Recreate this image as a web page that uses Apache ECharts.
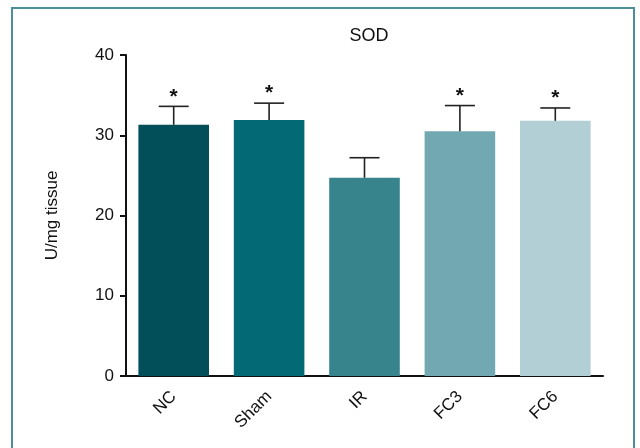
<!DOCTYPE html>
<html>
<head>
<meta charset="utf-8">
<script src="https://cdn.jsdelivr.net/npm/echarts@6/dist/echarts.min.js"></script>
<style>
  html, body { margin: 0; padding: 0; background: #fff; }
  #main { width: 640px; height: 448px; }
</style>
</head>
<body>
<div id="main"></div>
<script>
// 数据
var groups = ['NC', 'Sham', 'IR', 'FC3', 'FC6'];
var means = [31.3, 31.9, 24.7, 30.5, 31.8];
var errs = [2.3, 2.1, 2.5, 3.2, 1.6];
var stars = ['*', '*', '', '*', '*'];
var barColors = ['#034f59', '#036974', '#37848d', '#72a8b1', '#b2cfd5'];

var myChart = echarts.init(document.getElementById('main'));

var errData = groups.map(function (g, i) {
	return [i, means[i], means[i] + errs[i], stars[i]];
});

myChart.setOption({
	animation: false,
	textStyle: { fontFamily: 'Liberation Sans, Arial, sans-serif' },
	graphic: [{
		type: 'rect',
		shape: { x: 12, y: 8, width: 622, height: 460 },
		style: { fill: null, stroke: '#4d8e97', lineWidth: 2 },
		silent: true
	}],
	title: {
		text: 'SOD',
		left: 364,
		top: 22,
		textAlign: 'center',
		textStyle: { fontSize: 18, fontWeight: 'normal', color: '#111' }
	},
	grid: { left: 126, right: 37, top: 55, bottom: 72 },
	xAxis: {
		type: 'category',
		data: groups,
		axisLine: { lineStyle: { color: '#111', width: 2 } },
		axisTick: { alignWithLabel: true, length: 6, lineStyle: { color: '#111', width: 2 } },
		axisLabel: { rotate: 45, fontSize: 17, color: '#111', margin: 18 }
	},
	yAxis: {
		type: 'value',
		min: 0, max: 40, interval: 10,
		name: 'U/mg tissue',
		nameLocation: 'middle',
		nameGap: 65,
		nameTextStyle: { fontSize: 17, color: '#111' },
		axisLine: { show: true, lineStyle: { color: '#111', width: 2 } },
		axisTick: { show: true, length: 6, lineStyle: { color: '#111', width: 2 } },
		axisLabel: { fontSize: 17, color: '#111', margin: 12 },
		splitLine: { show: false }
	},
	series: [{
		type: 'bar',
		data: means.map(function (v, i) {
			return { value: v, itemStyle: { color: barColors[i] } };
		}),
		barCategoryGap: '26%',
		z: 2
	}, {
		type: 'custom',
		data: errData,
		z: 3,
		renderItem: function (params, api) {
			var base = api.coord([api.value(0), api.value(1)]);
			var top = api.coord([api.value(0), api.value(2)]);
			var half = 15;
			var children = [{
				type: 'line',
				shape: { x1: base[0], y1: base[1], x2: top[0], y2: top[1] },
				style: { stroke: '#222', lineWidth: 1.6 }
			}, {
				type: 'line',
				shape: { x1: top[0] - half, y1: top[1], x2: top[0] + half, y2: top[1] },
				style: { stroke: '#222', lineWidth: 1.6 }
			}];
			var s = stars[params.dataIndex];
			if (s) {
				children.push({
					type: 'text',
					style: {
						text: s, x: top[0], y: top[1] + 1,
						align: 'center', verticalAlign: 'bottom',
						fontSize: 21, fontWeight: 'bold', fill: '#111',
						fontFamily: 'Liberation Sans, Arial, sans-serif'
					}
				});
			}
			return { type: 'group', children: children };
		}
	}]
});
</script>
</body>
</html>
